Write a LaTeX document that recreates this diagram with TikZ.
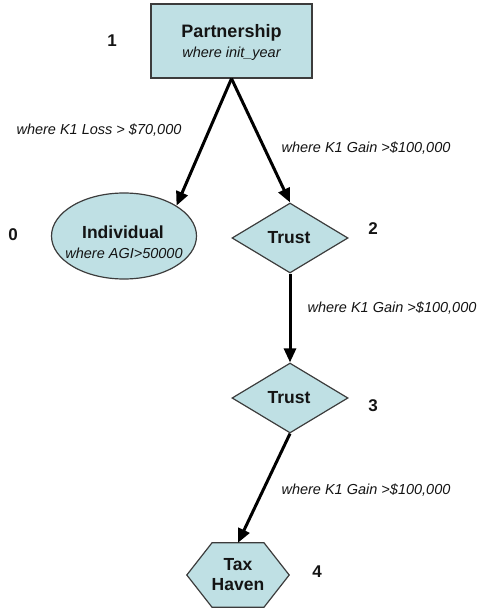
\documentclass[tikz,border=0pt]{standalone}
\usepackage{fontspec}
\setmainfont{Liberation Sans}
\usetikzlibrary{arrows.meta,shapes.geometric,backgrounds,calc}

\definecolor{shapefill}{RGB}{191,224,228}
\definecolor{shapeline}{RGB}{60,60,60}
\definecolor{ink}{RGB}{20,20,20}

\tikzset{
  box/.style={draw=shapeline, line width=1.2pt, fill=shapefill, inner sep=0pt},
  title/.style={font=\fontsize{18pt}{20pt}\selectfont\bfseries, text=ink, inner sep=0pt},
  cond/.style={font=\fontsize{14.5pt}{16pt}\selectfont\itshape, text=ink, inner sep=0pt},
  num/.style={font=\fontsize{17pt}{19pt}\selectfont\bfseries, text=ink, inner sep=0pt},
  flow/.style={line width=3pt, draw=black, -{Triangle[length=14pt,width=12pt]}},
}

\begin{document}
\begin{tikzpicture}[x=1pt, y=-1pt]
\useasboundingbox (0,0) rectangle (481,609);

% Partnership box
\node[box, rectangle, minimum width=161pt, minimum height=74pt] (part) at (231.5,41) {};
\node[title] (parttitle) at (231.5,33) {Partnership};
\node[cond] (partcond) at (231.5,54) {where init\_year};
\node[num] (n1) at (112,41) {1};

% Individual ellipse
\node[box, ellipse, minimum width=145pt, minimum height=86pt] (ind) at (124,236) {};
\node[title, font=\fontsize{17.5pt}{20pt}\selectfont\bfseries] (indtitle) at (123,232) {Individual};
\node[cond] (indcond) at (124,253) {where AGI>50000};
\node[num] (n0) at (13,235) {0};

% First Trust diamond
\node[box, diamond, minimum width=116pt, minimum height=70pt] (t2) at (290,238) {};
\node[title, font=\fontsize{17.5pt}{20pt}\selectfont\bfseries] (t2title) at (289,238) {Trust};
\node[num] (n2) at (373,229) {2};

% Second Trust diamond
\node[box, diamond, minimum width=116pt, minimum height=70pt] (t3) at (290,398) {};
\node[title, font=\fontsize{17.5pt}{20pt}\selectfont\bfseries] (t3title) at (289,398) {Trust};
\node[num] (n3) at (373,406) {3};

% Tax Haven hexagon
\node[inner sep=0pt, minimum width=102pt, minimum height=64pt, align=center,
      font=\fontsize{17.5pt}{20pt}\selectfont\bfseries, text=ink] (hex) at (238,575)
      {Tax\\Haven};
\begin{scope}[on background layer]
  \draw[box] (hex.west) -- ([xshift=-26pt]hex.north) -- ([xshift=26pt]hex.north)
        -- (hex.east) -- ([xshift=26pt]hex.south) -- ([xshift=-26pt]hex.south) -- cycle;
\end{scope}
\node[num] (n4) at (317,572) {4};

% Connectors
\draw[flow] (part.south) -- (ind.30);
\draw[flow] (part.south) -- (t2.north);
\draw[flow] (t2.south) -- (t3.north);
\draw[flow] (t3.south) -- (hex.north);

% Conditions on the connectors
\node[cond] (c1) at (99,130) {where K1 Loss > \$70,000};
\node[cond] (c2) at (366,148) {where K1 Gain >\$100,000};
\node[cond] (c3) at (392,308) {where K1 Gain >\$100,000};
\node[cond] (c4) at (366,490) {where K1 Gain >\$100,000};
\end{tikzpicture}
\end{document}
